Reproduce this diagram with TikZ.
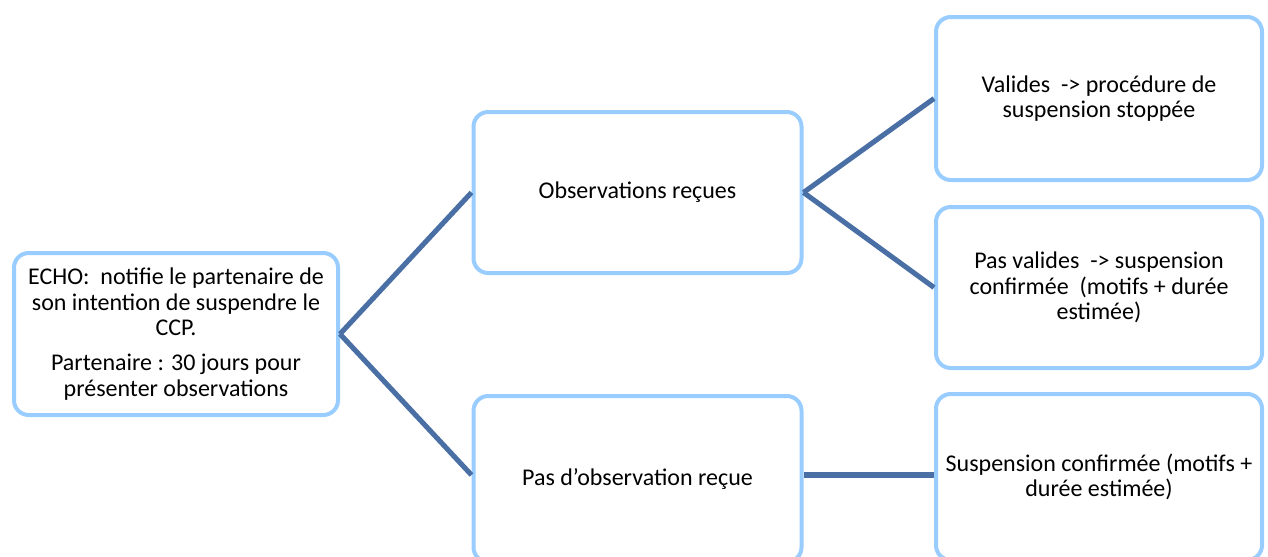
\documentclass[tikz,border=0pt]{standalone}
\usepackage{fontspec}
\setmainfont{Carlito}
\definecolor{boxline}{HTML}{99CCFF}
\definecolor{conn}{HTML}{4A6FA5}
\begin{document}
\begin{tikzpicture}[x=0.75pt,y=-0.75pt,
  box/.style={draw=boxline,line width=3pt,fill=white,rounded corners=11pt,
    align=center,inner sep=0pt,font=\fontsize{18}{19}\selectfont},
  link/.style={draw=conn,line width=3.8pt}]
\useasboundingbox (0,0) rectangle (1268,557);
\node[box,minimum width=324*0.75pt,minimum height=162*0.75pt] (L) at (176,334)
  {ECHO:\ \ notifie le partenaire de\\son intention de suspendre le\\CCP.\\[7.5pt]Partenaire : 30 jours pour\\présenter observations};
\node[box,minimum width=328*0.75pt,minimum height=161*0.75pt] (MT) at (637.5,192.5) {Observations reçues};
\node[box,minimum width=328*0.75pt,minimum height=166*0.75pt] (MB) at (637.5,479) {Pas d'observation reçue};
\node[box,minimum width=326*0.75pt,minimum height=163*0.75pt] (RT) at (1099,98.5) {Valides\ \ -> procédure de\\suspension stoppée};
\node[box,minimum width=326*0.75pt,minimum height=161*0.75pt] (RM) at (1099,287.5) {Pas valides\ \ -> suspension\\confirmée\ \ (motifs + durée\\estimée)};
\node[box,minimum width=326*0.75pt,minimum height=166*0.75pt] (RB) at (1099,477) {Suspension confirmée (motifs +\\durée estimée)};
\draw[link] (L.east) -- (MT.west);
\draw[link] (L.east) -- (MB.west |- 0,475);
\draw[link] (MT.east) -- (RT.west);
\draw[link] (MT.east) -- (RM.west);
\draw[link] (MB.east |- 0,475) -- (RB.west |- 0,475);
\end{tikzpicture}
\end{document}
